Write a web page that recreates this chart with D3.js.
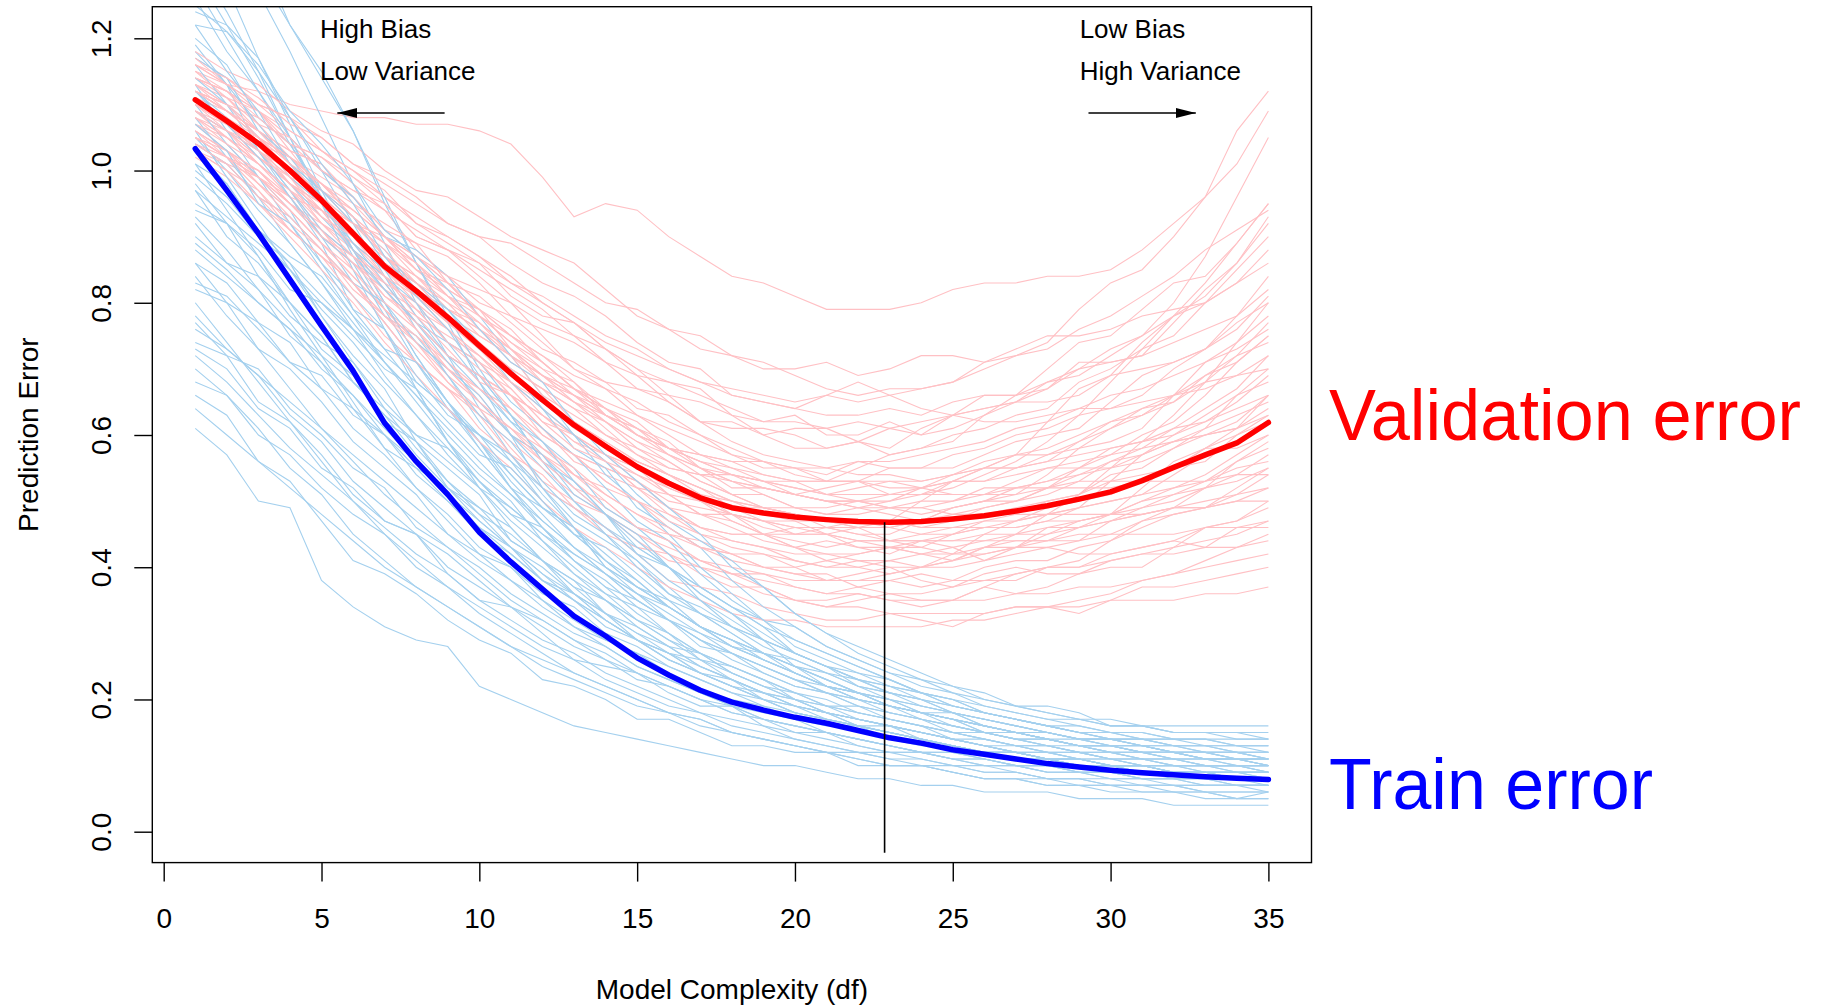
<!DOCTYPE html>
<html>
<head>
<meta charset="utf-8">
<script src="https://d3js.org/d3.v7.min.js"></script>
<style>
  body { margin: 0; background: #fff; }
  svg text { font-family: 'Liberation Sans', Arial, Helvetica, sans-serif; }
</style>
</head>
<body>
<svg id="chart" width="1823" height="1007"></svg>
<script>
// model complexity (df) for every point of a curve
var df = [1,2,3,4,5, 6,7,8,9,10, 11,12,13,14,15, 16,17,18,19,20, 21,22,23,24,25, 26,27,28,29,30, 31,32,33,34,35];

// average curves (thick)
var validMean = [1.107,1.075,1.041,1.000,0.955, 0.905,0.855,0.818,0.778,0.735, 0.693,0.653,0.615,0.583,0.552, 0.527,0.505,0.490,0.482,0.476, 0.472,0.469,0.468,0.469,0.473, 0.478,0.485,0.493,0.503,0.514, 0.531,0.551,0.570,0.588,0.619];
var trainMean = [1.033,0.970,0.905,0.835,0.765, 0.697,0.618,0.560,0.510,0.453, 0.408,0.367,0.326,0.296,0.263, 0.237,0.214,0.196,0.184,0.173, 0.164,0.153,0.142,0.134,0.124, 0.117,0.110,0.103,0.098,0.093, 0.089,0.086,0.083,0.081,0.079];

// single training samples, validation error (thin pink)
var validRuns = [
  [1.15,1.13,1.12,1.10,1.09, 1.08,1.08,1.07,1.07,1.06, 1.04,0.99,0.93,0.95,0.94, 0.90,0.87,0.84,0.83,0.81, 0.79,0.79,0.79,0.80,0.82, 0.83,0.83,0.84,0.84,0.85, 0.88,0.92,0.96,1.06,1.12],
  [1.17,1.14,1.10,1.08,1.05, 1.01,0.99,0.96,0.92,0.90, 0.89,0.86,0.83,0.80,0.79, 0.76,0.73,0.72,0.71,0.69, 0.67,0.66,0.67,0.67,0.68, 0.71,0.72,0.74,0.79,0.83, 0.85,0.90,0.96,1.01,1.09],
  [1.12,1.10,1.08,1.04,1.02, 0.99,0.95,0.90,0.88,0.86, 0.81,0.78,0.77,0.73,0.69, 0.68,0.67,0.63,0.62,0.63, 0.60,0.60,0.62,0.60,0.63, 0.66,0.66,0.70,0.74,0.75, 0.79,0.83,0.84,0.89,0.95],
  [1.08,1.06,1.02,0.98,0.95, 0.92,0.87,0.82,0.79,0.77, 0.72,0.68,0.66,0.64,0.61, 0.58,0.57,0.56,0.54,0.53, 0.53,0.55,0.57,0.58,0.59, 0.63,0.66,0.67,0.70,0.73, 0.75,0.80,0.87,0.96,1.05],
  [1.13,1.11,1.06,1.03,1.01, 0.96,0.91,0.89,0.87,0.83, 0.78,0.76,0.74,0.71,0.67, 0.66,0.65,0.63,0.60,0.61, 0.61,0.59,0.58,0.61,0.63, 0.64,0.65,0.67,0.71,0.71, 0.72,0.77,0.82,0.86,0.92],
  [1.06,1.03,1.00,0.95,0.92, 0.89,0.84,0.78,0.75,0.72, 0.67,0.62,0.60,0.57,0.53, 0.50,0.49,0.48,0.45,0.46, 0.46,0.47,0.47,0.50,0.53, 0.55,0.57,0.62,0.67,0.69, 0.74,0.78,0.80,0.85,0.90],
  [1.10,1.08,1.04,1.02,0.97, 0.92,0.90,0.86,0.81,0.79, 0.76,0.71,0.67,0.65,0.63, 0.60,0.57,0.56,0.56,0.54, 0.53,0.53,0.55,0.55,0.55, 0.57,0.59,0.60,0.61,0.65, 0.69,0.71,0.73,0.78,0.84],
  [1.15,1.12,1.09,1.04,1.00, 0.97,0.94,0.88,0.84,0.82, 0.80,0.75,0.70,0.68,0.67, 0.65,0.62,0.61,0.61,0.60, 0.58,0.59,0.61,0.60,0.61, 0.63,0.65,0.65,0.66,0.69, 0.70,0.71,0.73,0.77,0.80],
  [1.09,1.06,1.01,0.97,0.94, 0.88,0.82,0.79,0.76,0.71, 0.66,0.63,0.60,0.56,0.52, 0.51,0.50,0.47,0.45,0.45, 0.46,0.45,0.45,0.47,0.49, 0.50,0.51,0.54,0.58,0.59, 0.61,0.66,0.71,0.74,0.78],
  [1.12,1.09,1.06,1.01,0.96, 0.92,0.89,0.84,0.79,0.76, 0.73,0.69,0.65,0.63,0.61, 0.57,0.54,0.54,0.53,0.51, 0.52,0.53,0.51,0.51,0.53, 0.55,0.55,0.56,0.59,0.62, 0.63,0.65,0.68,0.72,0.74],
  [1.04,1.01,0.99,0.95,0.90, 0.86,0.82,0.77,0.72,0.69, 0.66,0.61,0.57,0.55,0.53, 0.49,0.46,0.45,0.45,0.43, 0.41,0.42,0.43,0.43,0.42, 0.45,0.47,0.48,0.49,0.53, 0.57,0.59,0.61,0.66,0.70],
  [1.14,1.11,1.07,1.02,0.99, 0.96,0.90,0.85,0.82,0.79, 0.73,0.68,0.65,0.62,0.58, 0.55,0.54,0.53,0.51,0.49, 0.49,0.50,0.49,0.49,0.50, 0.52,0.52,0.53,0.55,0.58, 0.59,0.60,0.63,0.66,0.68],
  [1.07,1.04,0.99,0.95,0.91, 0.85,0.79,0.75,0.71,0.66, 0.60,0.57,0.54,0.50,0.46, 0.45,0.44,0.42,0.40,0.40, 0.41,0.40,0.39,0.40,0.42, 0.42,0.43,0.46,0.47,0.48, 0.52,0.56,0.58,0.61,0.66],
  [1.11,1.09,1.06,1.02,0.98, 0.94,0.90,0.87,0.83,0.78, 0.75,0.72,0.68,0.63,0.61, 0.59,0.55,0.52,0.52,0.51, 0.50,0.49,0.50,0.52,0.51, 0.51,0.53,0.55,0.55,0.55, 0.57,0.59,0.60,0.61,0.64],
  [1.09,1.05,1.02,0.98,0.92, 0.88,0.84,0.79,0.74,0.71, 0.68,0.63,0.59,0.57,0.55, 0.51,0.48,0.48,0.47,0.45, 0.45,0.46,0.44,0.43,0.45, 0.46,0.46,0.47,0.49,0.50, 0.51,0.54,0.57,0.59,0.62],
  [1.13,1.10,1.05,1.02,0.98, 0.93,0.87,0.84,0.81,0.76, 0.71,0.68,0.65,0.61,0.57, 0.55,0.54,0.51,0.49,0.49, 0.48,0.49,0.48,0.47,0.49, 0.50,0.50,0.51,0.53,0.53, 0.53,0.55,0.58,0.58,0.60],
  [1.05,1.02,0.99,0.96,0.90, 0.86,0.83,0.77,0.72,0.69, 0.66,0.61,0.56,0.54,0.52, 0.48,0.45,0.44,0.43,0.41, 0.40,0.40,0.41,0.40,0.40, 0.41,0.43,0.43,0.44,0.47, 0.48,0.49,0.52,0.56,0.58],
  [1.10,1.07,1.03,0.99,0.95, 0.90,0.85,0.81,0.77,0.73, 0.69,0.65,0.62,0.59,0.56, 0.54,0.52,0.50,0.49,0.48, 0.47,0.47,0.47,0.46,0.46, 0.47,0.47,0.48,0.49,0.50, 0.51,0.52,0.53,0.55,0.56],
  [1.03,1.00,0.95,0.91,0.87, 0.81,0.75,0.71,0.67,0.61, 0.57,0.54,0.49,0.45,0.43, 0.42,0.39,0.37,0.37,0.35, 0.34,0.35,0.36,0.35,0.35, 0.37,0.39,0.40,0.41,0.44, 0.47,0.48,0.49,0.52,0.55],
  [1.12,1.09,1.05,1.01,0.97, 0.93,0.89,0.85,0.81,0.77, 0.73,0.70,0.66,0.63,0.60, 0.58,0.56,0.54,0.53,0.52, 0.51,0.51,0.51,0.51,0.51, 0.51,0.51,0.52,0.52,0.52, 0.53,0.53,0.53,0.54,0.54],
  [1.08,1.04,1.01,0.97,0.91, 0.87,0.83,0.77,0.72,0.69, 0.66,0.61,0.57,0.55,0.53, 0.49,0.46,0.45,0.45,0.43, 0.42,0.42,0.43,0.42,0.41, 0.43,0.44,0.44,0.45,0.45, 0.47,0.49,0.49,0.50,0.52],
  [1.16,1.13,1.09,1.05,1.00, 0.96,0.91,0.87,0.83,0.79, 0.75,0.71,0.67,0.64,0.60, 0.58,0.55,0.53,0.52,0.51, 0.50,0.49,0.49,0.49,0.48, 0.48,0.48,0.48,0.48,0.48, 0.48,0.49,0.49,0.50,0.50],
  [1.04,1.02,0.97,0.91,0.87, 0.83,0.77,0.71,0.67,0.64, 0.58,0.53,0.50,0.48,0.44, 0.41,0.40,0.39,0.37,0.35, 0.35,0.36,0.35,0.34,0.35, 0.37,0.36,0.37,0.39,0.40, 0.40,0.43,0.46,0.47,0.49],
  [1.10,1.07,1.04,1.00,0.95, 0.91,0.86,0.82,0.77,0.73, 0.69,0.65,0.61,0.58,0.55, 0.52,0.50,0.48,0.47,0.46, 0.45,0.44,0.44,0.44,0.44, 0.44,0.44,0.44,0.44,0.45, 0.45,0.45,0.46,0.46,0.47],
  [1.07,1.03,1.00,0.96,0.90, 0.86,0.82,0.76,0.71,0.67, 0.64,0.59,0.54,0.52,0.50, 0.46,0.43,0.42,0.42,0.40, 0.38,0.39,0.40,0.38,0.37, 0.39,0.40,0.39,0.39,0.41, 0.42,0.42,0.43,0.46,0.46],
  [1.02,0.99,0.95,0.90,0.85, 0.80,0.74,0.69,0.64,0.59, 0.55,0.50,0.46,0.43,0.40, 0.37,0.35,0.33,0.32,0.32, 0.31,0.31,0.31,0.31,0.32, 0.32,0.33,0.34,0.35,0.36, 0.38,0.39,0.41,0.43,0.45],
  [1.11,1.08,1.03,1.00,0.96, 0.90,0.87,0.83,0.78,0.73, 0.70,0.67,0.62,0.58,0.56, 0.54,0.51,0.48,0.47,0.47, 0.45,0.43,0.43,0.44,0.43, 0.41,0.42,0.43,0.42,0.42, 0.43,0.44,0.43,0.43,0.44],
  [1.06,1.03,0.99,0.94,0.89, 0.84,0.79,0.74,0.70,0.65, 0.61,0.57,0.53,0.49,0.46, 0.44,0.41,0.39,0.38,0.37, 0.36,0.36,0.35,0.35,0.35, 0.35,0.36,0.36,0.37,0.37, 0.38,0.39,0.40,0.41,0.42],
  [1.03,1.01,0.96,0.91,0.87, 0.83,0.77,0.71,0.67,0.63, 0.57,0.52,0.49,0.46,0.42, 0.38,0.37,0.36,0.34,0.33, 0.32,0.32,0.33,0.32,0.31, 0.33,0.34,0.34,0.33,0.35, 0.37,0.37,0.38,0.39,0.40],
  [1.05,1.02,0.98,0.94,0.89, 0.84,0.79,0.74,0.69,0.65, 0.60,0.56,0.52,0.48,0.45, 0.42,0.40,0.38,0.36,0.35, 0.34,0.34,0.33,0.33,0.33, 0.33,0.34,0.34,0.34,0.35, 0.35,0.35,0.36,0.36,0.37],
  [1.14,1.12,1.09,1.06,1.03, 1.00,0.96,0.93,0.90,0.87, 0.84,0.80,0.77,0.73,0.70, 0.66,0.62,0.59,0.57,0.56, 0.55,0.54,0.54,0.53,0.54, 0.55,0.57,0.58,0.60,0.62, 0.64,0.66,0.67,0.69,0.72],
  [1.18,1.15,1.13,1.09,1.06, 1.04,1.00,0.97,0.96,0.93, 0.90,0.88,0.86,0.82,0.78, 0.76,0.75,0.72,0.70,0.70, 0.71,0.69,0.70,0.72,0.72, 0.71,0.73,0.75,0.75,0.76, 0.78,0.79,0.80,0.83,0.86],
  [1.12,1.10,1.06,1.02,0.98, 0.94,0.90,0.86,0.82,0.79, 0.75,0.72,0.69,0.67,0.65, 0.62,0.60,0.58,0.56,0.55, 0.55,0.56,0.56,0.57,0.58, 0.59,0.61,0.62,0.64,0.66, 0.67,0.69,0.71,0.73,0.76],
  [1.09,1.06,1.02,0.98,0.94, 0.90,0.86,0.82,0.78,0.75, 0.72,0.69,0.66,0.63,0.60, 0.58,0.56,0.55,0.54,0.53, 0.53,0.53,0.53,0.53,0.54, 0.55,0.55,0.56,0.57,0.58, 0.59,0.61,0.62,0.64,0.66],
  [1.13,1.10,1.06,1.01,0.96, 0.91,0.86,0.81,0.76,0.72, 0.68,0.64,0.60,0.57,0.54, 0.52,0.50,0.48,0.46,0.45, 0.45,0.44,0.44,0.44,0.44, 0.45,0.45,0.46,0.46,0.47, 0.48,0.49,0.50,0.51,0.52],
  [1.08,1.05,1.01,0.97,0.93, 0.89,0.85,0.81,0.77,0.74, 0.70,0.67,0.64,0.62,0.59, 0.57,0.55,0.53,0.52,0.51, 0.50,0.50,0.50,0.51,0.52, 0.54,0.56,0.59,0.63,0.68, 0.73,0.78,0.83,0.89,0.95],
  [1.16,1.13,1.10,1.06,1.03, 0.99,0.96,0.92,0.89,0.86, 0.83,0.80,0.77,0.74,0.72, 0.70,0.68,0.66,0.65,0.64, 0.66,0.68,0.66,0.64,0.63, 0.62,0.62,0.63,0.64,0.64, 0.65,0.66,0.68,0.69,0.70],
  [1.06,1.03,0.98,0.93,0.88, 0.83,0.78,0.73,0.68,0.63, 0.59,0.55,0.51,0.48,0.45, 0.43,0.41,0.40,0.39,0.38, 0.38,0.38,0.39,0.40,0.41, 0.43,0.45,0.48,0.51,0.55, 0.59,0.63,0.68,0.74,0.80],
  [1.10,1.07,1.03,0.99,0.94, 0.90,0.85,0.80,0.76,0.72, 0.68,0.64,0.60,0.57,0.55, 0.53,0.51,0.50,0.49,0.48, 0.47,0.46,0.46,0.45,0.45, 0.46,0.46,0.47,0.47,0.48, 0.50,0.51,0.52,0.54,0.57],
  [1.12,1.09,1.05,1.00,0.96, 0.92,0.87,0.83,0.79,0.76, 0.72,0.69,0.66,0.62,0.59, 0.56,0.53,0.51,0.49,0.48, 0.47,0.46,0.46,0.47,0.48, 0.49,0.50,0.52,0.55,0.57, 0.60,0.62,0.66,0.71,0.75],
  [1.14,1.12,1.07,1.05,1.00, 0.97,0.95,0.90,0.88,0.84, 0.80,0.77,0.75,0.71,0.69, 0.65,0.62,0.62,0.60,0.58, 0.58,0.59,0.57,0.58,0.60, 0.61,0.63,0.64,0.68,0.70, 0.73,0.75,0.80,0.83,0.88],
  [1.07,1.05,1.01,0.96,0.94, 0.88,0.83,0.80,0.74,0.70, 0.67,0.62,0.58,0.56,0.52, 0.49,0.48,0.46,0.44,0.43, 0.44,0.43,0.42,0.44,0.45, 0.47,0.48,0.50,0.51,0.54, 0.55,0.58,0.60,0.62,0.66],
  [1.11,1.08,1.05,0.99,0.97, 0.93,0.87,0.84,0.80,0.75, 0.72,0.66,0.63,0.60,0.57, 0.54,0.52,0.49,0.49,0.48, 0.46,0.46,0.47,0.46,0.47, 0.49,0.50,0.52,0.53,0.56, 0.58,0.61,0.64,0.67,0.72],
  [1.15,1.11,1.09,1.03,1.01, 0.95,0.92,0.89,0.83,0.81, 0.77,0.73,0.71,0.68,0.64, 0.63,0.60,0.57,0.56,0.55, 0.54,0.56,0.55,0.55,0.57, 0.58,0.60,0.61,0.63,0.64, 0.66,0.70,0.73,0.76,0.81],
  [1.05,1.03,0.98,0.94,0.89, 0.85,0.80,0.76,0.70,0.67, 0.63,0.58,0.55,0.51,0.48, 0.46,0.43,0.41,0.40,0.39, 0.39,0.37,0.38,0.39,0.38, 0.40,0.41,0.41,0.43,0.44, 0.46,0.48,0.49,0.51,0.54],
  [1.13,1.09,1.06,1.03,0.97, 0.94,0.90,0.85,0.83,0.78, 0.74,0.71,0.67,0.64,0.62, 0.58,0.57,0.55,0.53,0.53, 0.51,0.52,0.53,0.52,0.54, 0.56,0.57,0.57,0.59,0.61, 0.64,0.65,0.69,0.72,0.77],
  [1.09,1.07,1.02,0.99,0.93, 0.90,0.84,0.81,0.77,0.73, 0.68,0.65,0.62,0.58,0.55, 0.53,0.50,0.49,0.47,0.46, 0.46,0.45,0.44,0.45,0.46, 0.46,0.47,0.49,0.50,0.51, 0.53,0.55,0.56,0.60,0.62],
  [1.16,1.14,1.11,1.07,1.05, 1.01,0.98,0.95,0.92,0.90, 0.86,0.83,0.81,0.78,0.74, 0.71,0.70,0.66,0.65,0.64, 0.63,0.63,0.64,0.63,0.65, 0.66,0.66,0.68,0.70,0.71, 0.72,0.74,0.76,0.78,0.82],
  [1.03,1.00,0.97,0.92,0.88, 0.82,0.78,0.74,0.68,0.64, 0.61,0.56,0.52,0.50,0.46, 0.44,0.41,0.39,0.39,0.37, 0.36,0.37,0.36,0.36,0.37, 0.38,0.38,0.40,0.40,0.42, 0.43,0.44,0.46,0.47,0.50],
  [1.10,1.06,1.04,0.98,0.95, 0.90,0.86,0.83,0.78,0.74, 0.70,0.67,0.64,0.60,0.58, 0.56,0.53,0.51,0.51,0.49, 0.48,0.48,0.49,0.48,0.49, 0.50,0.52,0.52,0.54,0.55, 0.56,0.58,0.61,0.63,0.65],
  [1.12,1.10,1.05,1.02,0.98, 0.95,0.90,0.87,0.84,0.80, 0.78,0.74,0.70,0.67,0.63, 0.61,0.59,0.57,0.55,0.55, 0.53,0.53,0.52,0.52,0.53, 0.53,0.54,0.55,0.56,0.57, 0.58,0.59,0.60,0.61,0.63],
  [1.06,1.02,1.00,0.95,0.90, 0.87,0.81,0.78,0.73,0.68, 0.66,0.60,0.57,0.53,0.50, 0.47,0.45,0.43,0.42,0.41, 0.40,0.41,0.40,0.40,0.41, 0.42,0.43,0.44,0.46,0.47, 0.49,0.51,0.53,0.56,0.59],
  [1.14,1.12,1.08,1.04,1.02, 0.98,0.94,0.91,0.88,0.85, 0.82,0.79,0.75,0.73,0.70, 0.68,0.66,0.64,0.62,0.62, 0.61,0.62,0.61,0.62,0.63, 0.64,0.65,0.68,0.69,0.72, 0.75,0.78,0.81,0.86,0.93],
  [1.08,1.05,1.01,0.97,0.92, 0.87,0.84,0.79,0.74,0.71, 0.66,0.63,0.59,0.56,0.54, 0.51,0.48,0.47,0.45,0.44, 0.43,0.44,0.43,0.42,0.43, 0.44,0.45,0.45,0.47,0.48, 0.49,0.50,0.52,0.53,0.55],
  [1.11,1.07,1.05,1.00,0.95, 0.92,0.88,0.83,0.80,0.77, 0.73,0.69,0.67,0.63,0.60, 0.57,0.55,0.54,0.52,0.51, 0.50,0.50,0.49,0.50,0.50, 0.51,0.52,0.53,0.54,0.56, 0.57,0.60,0.62,0.65,0.69],
  [1.04,1.01,0.96,0.93,0.88, 0.83,0.78,0.75,0.70,0.65, 0.61,0.58,0.54,0.51,0.48, 0.45,0.43,0.42,0.40,0.39, 0.38,0.38,0.38,0.37,0.38, 0.38,0.39,0.40,0.40,0.41, 0.42,0.43,0.44,0.45,0.47],
  [1.17,1.13,1.10,1.08,1.03, 1.00,0.97,0.92,0.90,0.87, 0.83,0.81,0.78,0.75,0.73, 0.70,0.68,0.67,0.66,0.65, 0.66,0.65,0.66,0.67,0.68, 0.70,0.72,0.73,0.76,0.78, 0.81,0.84,0.88,0.91,0.94],
  [1.09,1.06,1.03,0.98,0.94, 0.91,0.85,0.82,0.77,0.74, 0.69,0.65,0.62,0.59,0.56, 0.54,0.52,0.50,0.48,0.47, 0.47,0.47,0.46,0.47,0.47, 0.48,0.49,0.50,0.51,0.53, 0.54,0.55,0.58,0.60,0.63],
  [1.12,1.09,1.06,1.01,0.98, 0.93,0.89,0.86,0.81,0.78, 0.74,0.70,0.68,0.64,0.61, 0.58,0.56,0.54,0.53,0.52, 0.51,0.50,0.51,0.52,0.53, 0.53,0.55,0.57,0.58,0.61, 0.63,0.66,0.69,0.71,0.75],
  [1.05,1.02,0.99,0.95,0.91, 0.86,0.81,0.77,0.72,0.69, 0.64,0.60,0.57,0.53,0.50, 0.48,0.46,0.44,0.43,0.42, 0.42,0.41,0.41,0.42,0.42, 0.43,0.43,0.45,0.46,0.48, 0.50,0.52,0.54,0.57,0.60]
];

// single training samples, training error (thin blue)
var trainRuns = [
  [0.61,0.57,0.50,0.49,0.38, 0.34,0.31,0.29,0.28,0.22, 0.20,0.18,0.16,0.15,0.14, 0.13,0.12,0.11,0.10,0.10, 0.09,0.08,0.08,0.07,0.07, 0.06,0.06,0.06,0.05,0.05, 0.05,0.04,0.04,0.04,0.04],
  [0.66,0.63,0.56,0.53,0.47, 0.41,0.39,0.36,0.32,0.29, 0.27,0.23,0.22,0.20,0.17, 0.17,0.15,0.13,0.13,0.12, 0.12,0.10,0.10,0.10,0.09, 0.08,0.08,0.08,0.07,0.07, 0.07,0.06,0.06,0.05,0.06],
  [0.70,0.66,0.61,0.55,0.51, 0.45,0.41,0.37,0.34,0.31, 0.28,0.25,0.23,0.21,0.19, 0.18,0.16,0.15,0.14,0.13, 0.12,0.12,0.11,0.10,0.10, 0.09,0.09,0.08,0.08,0.08, 0.07,0.07,0.07,0.07,0.06],
  [0.74,0.72,0.65,0.62,0.57, 0.51,0.47,0.45,0.39,0.35, 0.34,0.30,0.26,0.25,0.24, 0.21,0.19,0.19,0.16,0.15, 0.15,0.13,0.12,0.12,0.11, 0.11,0.10,0.10,0.09,0.09, 0.09,0.08,0.08,0.08,0.08],
  [0.78,0.73,0.69,0.63,0.59, 0.53,0.49,0.45,0.42,0.38, 0.34,0.32,0.29,0.26,0.24, 0.22,0.20,0.18,0.17,0.16, 0.15,0.14,0.13,0.12,0.12, 0.11,0.10,0.10,0.09,0.09, 0.08,0.08,0.08,0.07,0.07],
  [0.82,0.80,0.73,0.70,0.65, 0.59,0.55,0.51,0.45,0.42, 0.40,0.35,0.31,0.29,0.27, 0.24,0.21,0.20,0.19,0.17, 0.16,0.16,0.14,0.13,0.13, 0.12,0.11,0.11,0.10,0.10, 0.10,0.09,0.09,0.08,0.08],
  [0.86,0.80,0.77,0.71,0.67, 0.61,0.57,0.52,0.48,0.43, 0.40,0.36,0.34,0.30,0.28, 0.25,0.23,0.21,0.20,0.18, 0.17,0.16,0.15,0.14,0.13, 0.12,0.12,0.11,0.11,0.10, 0.10,0.09,0.09,0.09,0.09],
  [0.89,0.85,0.80,0.76,0.70, 0.66,0.60,0.56,0.51,0.47, 0.43,0.40,0.36,0.33,0.30, 0.28,0.25,0.23,0.21,0.20, 0.18,0.17,0.16,0.15,0.14, 0.13,0.13,0.12,0.11,0.11, 0.10,0.10,0.10,0.09,0.09],
  [0.92,0.86,0.82,0.75,0.71, 0.64,0.60,0.54,0.50,0.45, 0.42,0.38,0.35,0.31,0.29, 0.26,0.24,0.22,0.20,0.19, 0.17,0.16,0.15,0.14,0.13, 0.12,0.12,0.11,0.10,0.10, 0.09,0.09,0.09,0.08,0.08],
  [0.95,0.92,0.84,0.80,0.75, 0.68,0.63,0.59,0.52,0.49, 0.46,0.41,0.37,0.35,0.31, 0.28,0.27,0.24,0.22,0.21, 0.19,0.19,0.17,0.16,0.15, 0.14,0.13,0.13,0.12,0.11, 0.11,0.10,0.10,0.10,0.09],
  [0.98,0.92,0.87,0.80,0.75, 0.68,0.63,0.57,0.52,0.47, 0.43,0.39,0.35,0.32,0.29, 0.26,0.24,0.22,0.20,0.18, 0.17,0.16,0.15,0.14,0.13, 0.12,0.11,0.11,0.10,0.10, 0.09,0.09,0.08,0.08,0.08],
  [1.00,0.96,0.90,0.85,0.79, 0.74,0.68,0.63,0.58,0.53, 0.49,0.45,0.41,0.38,0.34, 0.32,0.29,0.27,0.25,0.23, 0.21,0.20,0.19,0.17,0.16, 0.15,0.15,0.14,0.13,0.13, 0.12,0.12,0.11,0.11,0.11],
  [1.03,0.98,0.91,0.86,0.78, 0.72,0.67,0.59,0.55,0.51, 0.44,0.41,0.38,0.33,0.29, 0.27,0.26,0.23,0.20,0.19, 0.18,0.16,0.16,0.14,0.13, 0.12,0.12,0.11,0.10,0.09, 0.09,0.09,0.08,0.08,0.07],
  [1.05,1.00,0.94,0.89,0.83, 0.77,0.71,0.66,0.60,0.55, 0.51,0.46,0.42,0.39,0.35, 0.32,0.30,0.27,0.25,0.23, 0.22,0.20,0.19,0.18,0.17, 0.16,0.15,0.14,0.14,0.13, 0.13,0.12,0.12,0.12,0.11],
  [1.08,1.02,0.96,0.89,0.83, 0.76,0.69,0.63,0.57,0.52, 0.47,0.43,0.39,0.35,0.32, 0.29,0.26,0.24,0.22,0.20, 0.18,0.17,0.16,0.15,0.14, 0.13,0.12,0.11,0.11,0.10, 0.10,0.09,0.09,0.08,0.08],
  [1.10,1.04,0.99,0.94,0.86, 0.81,0.76,0.68,0.64,0.59, 0.52,0.49,0.46,0.40,0.37, 0.35,0.31,0.28,0.27,0.24, 0.22,0.21,0.20,0.18,0.18, 0.16,0.15,0.15,0.14,0.14, 0.13,0.12,0.12,0.11,0.11],
  [1.13,1.06,0.99,0.92,0.85, 0.78,0.71,0.65,0.59,0.53, 0.48,0.44,0.40,0.36,0.32, 0.29,0.27,0.24,0.22,0.20, 0.19,0.17,0.16,0.15,0.14, 0.13,0.12,0.12,0.11,0.10, 0.10,0.09,0.09,0.09,0.08],
  [1.16,1.10,1.03,0.97,0.90, 0.83,0.77,0.71,0.65,0.59, 0.54,0.49,0.45,0.41,0.37, 0.34,0.31,0.28,0.26,0.24, 0.22,0.20,0.19,0.18,0.17, 0.16,0.15,0.14,0.13,0.13, 0.12,0.12,0.11,0.11,0.10],
  [1.19,1.13,1.03,0.96,0.89, 0.79,0.73,0.67,0.59,0.54, 0.50,0.44,0.39,0.36,0.34, 0.30,0.26,0.25,0.23,0.20, 0.19,0.18,0.17,0.16,0.14, 0.14,0.13,0.12,0.12,0.11, 0.10,0.10,0.10,0.09,0.09],
  [1.22,1.21,1.15,1.08,1.00, 0.92,0.84,0.76,0.69,0.62, 0.56,0.50,0.45,0.41,0.37, 0.34,0.31,0.28,0.26,0.24, 0.22,0.21,0.19,0.18,0.17, 0.16,0.15,0.14,0.13,0.13, 0.12,0.12,0.11,0.11,0.10],
  [1.24,1.22,1.14,1.05,0.96, 0.87,0.79,0.71,0.64,0.58, 0.52,0.47,0.43,0.39,0.35, 0.32,0.29,0.27,0.25,0.23, 0.21,0.20,0.18,0.17,0.16, 0.15,0.14,0.14,0.13,0.12, 0.12,0.11,0.11,0.10,0.10],
  [1.45,1.36,1.27,1.18,1.08, 0.98,0.89,0.80,0.72,0.64, 0.57,0.51,0.46,0.42,0.38, 0.34,0.31,0.29,0.27,0.25, 0.23,0.21,0.20,0.19,0.18, 0.17,0.16,0.15,0.14,0.14, 0.13,0.13,0.12,0.12,0.12],
  [1.55,1.45,1.30,1.22,1.15, 1.06,0.95,0.86,0.78,0.70, 0.63,0.56,0.50,0.45,0.41, 0.37,0.33,0.31,0.29,0.27, 0.25,0.24,0.23,0.21,0.20, 0.19,0.18,0.17,0.17,0.16, 0.16,0.15,0.15,0.15,0.15],
  [1.38,1.28,1.17,1.07,0.97, 0.88,0.80,0.72,0.65,0.59, 0.53,0.48,0.43,0.39,0.36, 0.33,0.30,0.28,0.26,0.24, 0.22,0.21,0.19,0.18,0.17, 0.16,0.15,0.14,0.13,0.13, 0.12,0.12,0.11,0.11,0.11],
  [0.97,0.93,0.89,0.85,0.80, 0.76,0.72,0.68,0.64,0.60, 0.56,0.52,0.49,0.46,0.43, 0.40,0.37,0.34,0.32,0.31, 0.28,0.26,0.24,0.23,0.21, 0.20,0.19,0.19,0.18,0.16, 0.16,0.16,0.16,0.16,0.16],
  [0.88,0.84,0.80,0.76,0.72, 0.68,0.64,0.60,0.56,0.52, 0.49,0.45,0.42,0.39,0.36, 0.34,0.31,0.29,0.27,0.25, 0.24,0.22,0.21,0.20,0.19, 0.18,0.17,0.16,0.16,0.15, 0.15,0.14,0.14,0.14,0.14],
  [1.12,1.08,1.03,0.98,0.93, 0.88,0.82,0.77,0.72,0.67, 0.62,0.57,0.52,0.48,0.44, 0.40,0.37,0.34,0.31,0.29, 0.27,0.25,0.23,0.21,0.20, 0.18,0.17,0.16,0.15,0.14, 0.14,0.13,0.13,0.12,0.12],
  [0.72,0.68,0.63,0.58,0.54, 0.50,0.46,0.42,0.39,0.35, 0.32,0.29,0.27,0.24,0.22, 0.20,0.18,0.17,0.16,0.14, 0.13,0.12,0.12,0.11,0.10, 0.10,0.09,0.08,0.08,0.07, 0.07,0.07,0.06,0.06,0.06],
  [0.80,0.74,0.68,0.62,0.56, 0.50,0.45,0.41,0.37,0.33, 0.30,0.27,0.24,0.22,0.20, 0.18,0.17,0.15,0.14,0.13, 0.12,0.11,0.10,0.10,0.09, 0.08,0.08,0.07,0.07,0.07, 0.06,0.06,0.06,0.05,0.05],
  [0.93,0.88,0.82,0.77,0.71, 0.66,0.61,0.56,0.51,0.46, 0.42,0.38,0.35,0.32,0.29, 0.27,0.24,0.22,0.21,0.19, 0.18,0.17,0.16,0.15,0.14, 0.13,0.12,0.11,0.11,0.10, 0.10,0.09,0.09,0.09,0.09],
  [1.01,0.94,0.87,0.79,0.72, 0.65,0.58,0.52,0.47,0.42, 0.38,0.34,0.31,0.28,0.25, 0.23,0.21,0.19,0.17,0.16, 0.15,0.14,0.13,0.12,0.11, 0.10,0.10,0.09,0.09,0.08, 0.08,0.07,0.07,0.07,0.07],
  [1.18,1.13,1.07,1.01,0.95, 0.89,0.83,0.77,0.71,0.65, 0.60,0.55,0.50,0.46,0.42, 0.38,0.35,0.32,0.29,0.27, 0.25,0.23,0.21,0.20,0.18, 0.17,0.16,0.15,0.14,0.14, 0.13,0.13,0.12,0.12,0.11],
  [0.84,0.78,0.73,0.67,0.61, 0.56,0.51,0.47,0.43,0.39, 0.35,0.32,0.29,0.27,0.24, 0.22,0.20,0.19,0.17,0.16, 0.15,0.14,0.13,0.12,0.11, 0.11,0.10,0.09,0.09,0.09, 0.08,0.08,0.08,0.07,0.07],
  [1.06,0.99,0.92,0.85,0.78, 0.71,0.64,0.58,0.53,0.48, 0.43,0.39,0.36,0.33,0.30, 0.27,0.25,0.23,0.21,0.19, 0.18,0.17,0.16,0.15,0.14, 0.13,0.12,0.11,0.11,0.10, 0.10,0.09,0.09,0.09,0.08],
  [0.76,0.73,0.69,0.65,0.61, 0.57,0.53,0.49,0.45,0.41, 0.38,0.35,0.32,0.29,0.27, 0.25,0.23,0.21,0.19,0.18, 0.17,0.16,0.15,0.14,0.13, 0.12,0.12,0.11,0.11,0.10, 0.10,0.10,0.09,0.09,0.09],
  [1.28,1.20,1.12,1.04,0.96, 0.88,0.80,0.72,0.65,0.58, 0.52,0.46,0.41,0.37,0.33, 0.30,0.27,0.25,0.23,0.21, 0.19,0.18,0.17,0.16,0.15, 0.14,0.13,0.12,0.12,0.11, 0.11,0.10,0.10,0.10,0.09],
  [0.64,0.60,0.56,0.52,0.48, 0.44,0.40,0.37,0.34,0.31, 0.28,0.26,0.24,0.22,0.20, 0.18,0.17,0.15,0.14,0.13, 0.12,0.11,0.10,0.10,0.09, 0.08,0.08,0.07,0.07,0.06, 0.06,0.06,0.05,0.05,0.05],
  [0.99,0.95,0.90,0.86,0.81, 0.76,0.71,0.66,0.61,0.56, 0.51,0.47,0.43,0.40,0.37, 0.34,0.31,0.29,0.27,0.26, 0.24,0.23,0.22,0.21,0.19, 0.18,0.17,0.16,0.15,0.15, 0.14,0.14,0.14,0.13,0.13],
  [1.70,1.52,1.33,1.22,1.14, 1.06,0.96,0.86,0.77,0.68, 0.60,0.52,0.46,0.40,0.36, 0.32,0.29,0.26,0.24,0.22, 0.21,0.19,0.18,0.17,0.16, 0.15,0.14,0.13,0.12,0.12, 0.11,0.11,0.10,0.10,0.10],
  [1.32,1.24,1.15,1.05,0.95, 0.85,0.76,0.67,0.59,0.52, 0.46,0.41,0.36,0.32,0.29, 0.26,0.24,0.22,0.20,0.18, 0.17,0.16,0.15,0.14,0.13, 0.12,0.11,0.11,0.10,0.10, 0.09,0.09,0.08,0.08,0.08],
  [1.26,1.18,1.12,1.05,1.00, 0.96,0.90,0.88,0.84,0.78, 0.72,0.66,0.60,0.54,0.50, 0.45,0.40,0.36,0.32,0.29, 0.27,0.25,0.23,0.21,0.19, 0.18,0.17,0.16,0.15,0.14, 0.14,0.13,0.13,0.12,0.12],
  [1.20,1.16,1.08,1.04,0.97, 0.92,0.88,0.82,0.79,0.74, 0.68,0.64,0.58,0.55,0.49, 0.46,0.43,0.38,0.34,0.31, 0.28,0.26,0.24,0.22,0.21, 0.19,0.18,0.17,0.16,0.15, 0.15,0.14,0.14,0.13,0.13],
  [1.14,1.10,1.05,0.99,0.95, 0.88,0.84,0.80,0.74,0.71, 0.65,0.61,0.57,0.52,0.47, 0.44,0.39,0.35,0.32,0.28, 0.26,0.24,0.22,0.21,0.20, 0.18,0.17,0.16,0.15,0.14, 0.14,0.13,0.13,0.13,0.12],
  [1.09,1.06,1.03,0.97,0.91, 0.87,0.82,0.77,0.74,0.68, 0.62,0.59,0.55,0.49,0.46, 0.42,0.37,0.34,0.31,0.27, 0.25,0.23,0.21,0.20,0.18, 0.17,0.16,0.15,0.14,0.14, 0.13,0.12,0.12,0.12,0.11],
  [1.04,1.01,0.96,0.93,0.88, 0.83,0.80,0.74,0.70,0.66, 0.60,0.57,0.51,0.48,0.43, 0.40,0.36,0.33,0.29,0.27, 0.25,0.22,0.21,0.19,0.18, 0.16,0.15,0.15,0.14,0.13, 0.13,0.12,0.12,0.11,0.11],
  [1.17,1.14,1.06,1.02,0.96, 0.89,0.85,0.78,0.72,0.69, 0.63,0.56,0.53,0.48,0.42, 0.40,0.35,0.31,0.29,0.25, 0.23,0.21,0.19,0.18,0.17, 0.15,0.14,0.14,0.13,0.12, 0.12,0.11,0.11,0.10,0.10],
  [0.94,0.92,0.88,0.82,0.80, 0.75,0.70,0.67,0.62,0.57, 0.55,0.50,0.45,0.43,0.39, 0.35,0.33,0.30,0.27,0.25, 0.23,0.21,0.20,0.18,0.17, 0.16,0.15,0.14,0.13,0.13, 0.12,0.12,0.11,0.11,0.10],
  [0.90,0.86,0.84,0.78,0.74, 0.71,0.65,0.60,0.58,0.53, 0.48,0.46,0.41,0.37,0.35, 0.32,0.28,0.27,0.24,0.22, 0.21,0.19,0.18,0.17,0.15, 0.15,0.14,0.13,0.12,0.12, 0.11,0.11,0.10,0.10,0.10],
  [1.22,1.15,1.09,1.01,0.97, 0.93,0.86,0.83,0.79,0.73, 0.70,0.64,0.60,0.56,0.51, 0.47,0.44,0.41,0.37,0.33, 0.30,0.27,0.25,0.23,0.22, 0.20,0.19,0.18,0.17,0.17, 0.16,0.15,0.15,0.15,0.14],
  [1.12,1.07,1.02,0.96,0.90, 0.86,0.78,0.75,0.69,0.63, 0.59,0.53,0.48,0.45,0.40, 0.36,0.33,0.30,0.27,0.25, 0.22,0.21,0.19,0.18,0.16, 0.15,0.14,0.13,0.13,0.12, 0.11,0.11,0.10,0.10,0.10],
  [0.86,0.83,0.77,0.74,0.67, 0.64,0.58,0.55,0.50,0.46, 0.43,0.38,0.36,0.32,0.29, 0.27,0.24,0.23,0.21,0.19, 0.18,0.16,0.15,0.14,0.13, 0.12,0.12,0.11,0.10,0.10, 0.09,0.09,0.09,0.08,0.08],
  [1.01,0.98,0.91,0.87,0.84, 0.78,0.73,0.71,0.65,0.60, 0.57,0.52,0.47,0.44,0.41, 0.36,0.34,0.31,0.28,0.26, 0.24,0.22,0.20,0.19,0.18, 0.17,0.16,0.15,0.14,0.13, 0.13,0.12,0.12,0.11,0.11],
  [0.77,0.72,0.70,0.64,0.60, 0.55,0.52,0.46,0.43,0.40, 0.36,0.33,0.30,0.28,0.25, 0.23,0.21,0.19,0.18,0.17, 0.15,0.14,0.13,0.12,0.12, 0.11,0.10,0.10,0.09,0.09, 0.08,0.08,0.07,0.07,0.07],
  [0.68,0.66,0.60,0.57,0.52, 0.48,0.45,0.40,0.37,0.34, 0.31,0.28,0.26,0.23,0.21, 0.19,0.18,0.16,0.15,0.14, 0.13,0.12,0.11,0.11,0.10, 0.09,0.09,0.08,0.08,0.07, 0.07,0.07,0.06,0.06,0.06],
  [1.25,1.21,1.16,1.09,1.04, 0.98,0.91,0.87,0.82,0.76, 0.71,0.68,0.62,0.57,0.53, 0.49,0.45,0.40,0.37,0.33, 0.30,0.28,0.26,0.24,0.22, 0.21,0.19,0.18,0.17,0.16, 0.16,0.15,0.15,0.14,0.14],
  [0.97,0.90,0.86,0.80,0.73, 0.69,0.62,0.59,0.53,0.49, 0.44,0.41,0.37,0.33,0.31, 0.28,0.25,0.23,0.21,0.20, 0.18,0.17,0.16,0.15,0.14, 0.13,0.12,0.12,0.11,0.11, 0.10,0.10,0.09,0.09,0.09],
  [1.07,1.03,0.95,0.92,0.86, 0.79,0.76,0.69,0.63,0.60, 0.54,0.49,0.46,0.41,0.38, 0.34,0.31,0.29,0.26,0.24, 0.22,0.20,0.19,0.18,0.17, 0.15,0.15,0.14,0.13,0.12, 0.12,0.11,0.11,0.11,0.10],
  [0.83,0.81,0.76,0.71,0.69, 0.63,0.60,0.55,0.52,0.48, 0.45,0.41,0.38,0.35,0.32, 0.30,0.27,0.25,0.23,0.21, 0.20,0.18,0.17,0.16,0.15, 0.14,0.13,0.13,0.12,0.11, 0.11,0.10,0.10,0.10,0.09],
  [1.30,1.22,1.17,1.08,1.01, 0.95,0.87,0.81,0.76,0.69, 0.63,0.59,0.53,0.48,0.45, 0.40,0.36,0.33,0.30,0.27, 0.25,0.23,0.22,0.20,0.19, 0.18,0.17,0.16,0.15,0.15, 0.14,0.14,0.13,0.13,0.13],
  [0.73,0.70,0.64,0.61,0.55, 0.52,0.47,0.45,0.40,0.37, 0.34,0.31,0.28,0.26,0.23, 0.22,0.20,0.18,0.17,0.15, 0.14,0.13,0.12,0.12,0.11, 0.10,0.10,0.09,0.09,0.08, 0.08,0.08,0.07,0.07,0.07]
];

// axis ticks
var xTicks = [0, 5, 10, 15, 20, 25, 30, 35];
var yTicks = [0, 0.2, 0.4, 0.6, 0.8, 1.0, 1.2];
var yTickLabels = ['0.0', '0.2', '0.4', '0.6', '0.8', '1.0', '1.2'];

// df chosen by the smallest validation error
var bestDf = 22.84;

// annotation texts
var annotations = [
  {text: 'High Bias', x: 4.95, y: 1.201},
  {text: 'Low Variance', x: 4.95, y: 1.137},
  {text: 'Low Bias', x: 29.02, y: 1.201},
  {text: 'High Variance', x: 29.02, y: 1.137}
];
var arrowsData = [
  {from: 8.9, to: 5.5, y: 1.087},
  {from: 29.3, to: 32.7, y: 1.087}
];

var svg = d3.select('#chart');

var box = {left: 152.3, right: 1311.5, top: 6.7, bottom: 862.6};
var x = d3.scaleLinear().domain([0, 35]).range([163.7, 1268.4]);
var y = d3.scaleLinear().domain([0, 1.2]).range([831.7, 38.3]);

var defs = svg.append('defs');
defs.append('clipPath').attr('id', 'plotclip')
  .append('rect')
    .attr('x', box.left).attr('y', box.top)
    .attr('width', box.right - box.left).attr('height', box.bottom - box.top);

defs.append('marker')
    .attr('id', 'arrowhead')
    .attr('viewBox', '0 0 20 10')
    .attr('refX', 20).attr('refY', 5)
    .attr('markerWidth', 20).attr('markerHeight', 10)
    .attr('markerUnits', 'userSpaceOnUse')
    .attr('orient', 'auto')
  .append('path')
    .attr('d', 'M 0 0 L 20 5 L 0 10 z')
    .attr('fill', 'black');

var line = d3.line()
  .defined(function(d, i) { return i < df.length; })
  .x(function(d, i) { return x(df[i]); })
  .y(function(d) { return y(d); });

var plot = svg.append('g').attr('clip-path', 'url(#plotclip)');

// thin lines, one training sample after the other
var nRuns = Math.max(validRuns.length, trainRuns.length);
for (var i = 0; i < nRuns; i++) {
  if (trainRuns[i]) {
    plot.append('path')
      .attr('d', line(trainRuns[i]))
      .attr('fill', 'none')
      .attr('stroke', '#a4d0ee')
      .attr('stroke-width', 1.1);
  }
  if (validRuns[i]) {
    plot.append('path')
      .attr('d', line(validRuns[i]))
      .attr('fill', 'none')
      .attr('stroke', '#ffc0c4')
      .attr('stroke-width', 1.1);
  }
}

// thick average lines
plot.append('path')
  .attr('d', line(validMean))
  .attr('fill', 'none')
  .attr('stroke', '#ff0000')
  .attr('stroke-width', 5.5)
  .attr('stroke-linecap', 'round')
  .attr('stroke-linejoin', 'round');

plot.append('path')
  .attr('d', line(trainMean))
  .attr('fill', 'none')
  .attr('stroke', '#0000ff')
  .attr('stroke-width', 5.5)
  .attr('stroke-linecap', 'round')
  .attr('stroke-linejoin', 'round');

// vertical line at the best df
svg.append('line')
  .attr('x1', x(bestDf)).attr('x2', x(bestDf))
  .attr('y1', y(-0.032)).attr('y2', y(d3.min(validMean)))
  .attr('stroke', 'black')
  .attr('stroke-width', 1.6);

// box
svg.append('rect')
  .attr('x', box.left).attr('y', box.top)
  .attr('width', box.right - box.left).attr('height', box.bottom - box.top)
  .attr('fill', 'none')
  .attr('stroke', 'black')
  .attr('stroke-width', 1.4);

// x axis
var xAxis = svg.append('g')
  .attr('transform', 'translate(0,' + box.bottom + ')')
  .call(d3.axisBottom(x).tickValues(xTicks).tickSize(19).tickFormat(d3.format('d')));
xAxis.select('.domain').remove();
xAxis.selectAll('line').attr('stroke', 'black').attr('stroke-width', 1.4);
xAxis.selectAll('text')
  .attr('y', 65.4).attr('dy', 0)
  .attr('font-size', 28)
  .attr('fill', 'black')
  .attr('font-family', "'Liberation Sans', Arial, sans-serif");

// y axis
var yAxis = svg.append('g')
  .attr('transform', 'translate(' + box.left + ',0)')
  .call(d3.axisLeft(y).tickValues(yTicks).tickSize(18)
    .tickFormat(function(d, i) { return yTickLabels[i]; }));
yAxis.select('.domain').remove();
yAxis.selectAll('line').attr('stroke', 'black').attr('stroke-width', 1.4);
yAxis.selectAll('text')
  .attr('x', 0).attr('y', 0).attr('dy', 0)
  .attr('text-anchor', 'middle')
  .attr('transform', 'translate(-41,0) rotate(-90)')
  .attr('font-size', 28)
  .attr('fill', 'black')
  .attr('font-family', "'Liberation Sans', Arial, sans-serif");

// axis titles
svg.append('text')
  .attr('x', (box.left + box.right) / 2)
  .attr('y', 999)
  .attr('text-anchor', 'middle')
  .attr('font-size', 28)
  .text('Model Complexity (df)');

svg.append('text')
  .attr('transform', 'translate(38,' + ((box.top + box.bottom) / 2) + ') rotate(-90)')
  .attr('text-anchor', 'middle')
  .attr('font-size', 28)
  .text('Prediction Error');

// annotations
svg.selectAll('.ann')
  .data(annotations)
  .enter()
  .append('text')
    .attr('class', 'ann')
    .attr('x', function(d) { return x(d.x); })
    .attr('y', function(d) { return y(d.y); })
    .attr('font-size', 26)
    .text(function(d) { return d.text; });

svg.selectAll('.arr')
  .data(arrowsData)
  .enter()
  .append('line')
    .attr('class', 'arr')
    .attr('x1', function(d) { return x(d.from); })
    .attr('x2', function(d) { return x(d.to); })
    .attr('y1', function(d) { return y(d.y); })
    .attr('y2', function(d) { return y(d.y); })
    .attr('stroke', 'black')
    .attr('stroke-width', 1.4)
    .attr('marker-end', 'url(#arrowhead)');

// curve labels at the right
svg.append('text')
  .attr('x', 1329)
  .attr('y', y(validMean[validMean.length - 1]) + 18)
  .attr('font-size', 72)
  .attr('fill', '#ff0000')
  .attr('textLength', 472)
  .attr('lengthAdjust', 'spacingAndGlyphs')
  .text('Validation error');

svg.append('text')
  .attr('x', 1329)
  .attr('y', y(trainMean[trainMean.length - 1]) + 30)
  .attr('font-size', 72)
  .attr('fill', '#0000ff')
  .attr('textLength', 324)
  .attr('lengthAdjust', 'spacingAndGlyphs')
  .text('Train error');
</script>
</body>
</html>
